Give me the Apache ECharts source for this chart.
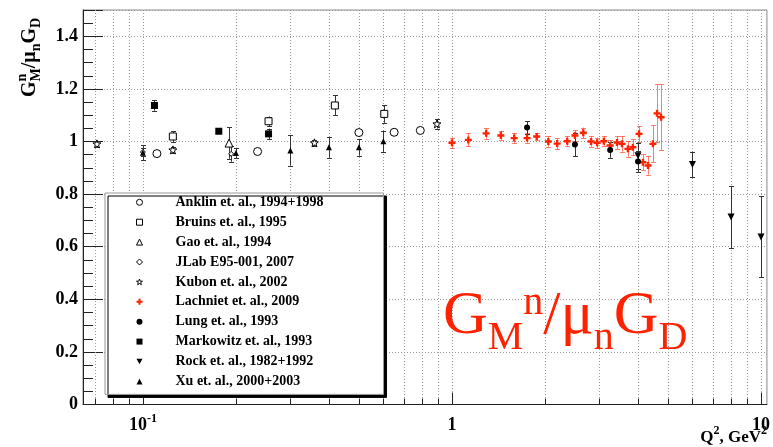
<!DOCTYPE html>
<html><head><meta charset="utf-8">
<script src="https://cdn.jsdelivr.net/npm/echarts@6/dist/echarts.min.js"></script>
<style>html,body{margin:0;padding:0;background:#fff;}#c{width:773px;height:447px;}</style>
</head><body><div id="c"></div>
<script>
// ---------- data ----------
const xMin = 0.064, xMax = 10.45;
const yMin = 0, yMax = 1.5, yStep = 0.2;
const xGridValues = [0.07,0.08,0.09,0.1,0.2,0.3,0.4,0.5,0.6,0.7,0.8,0.9,1,2,3,4,5,6,7,8,9,10];
const xMajorValues = [0.1, 1, 10];

const anklinQ2 = [0.111, 0.235, 0.50, 0.65, 0.79];
const anklinVal = [0.954, 0.962, 1.034, 1.035, 1.042];
const anklinErr = [0, 0, 0, 0, 0];

const bruinsQ2 = [0.125, 0.255, 0.418, 0.604];
const bruinsVal = [1.019, 1.077, 1.137, 1.105];
const bruinsErr = [0.02, 0.018, 0.038, 0.034];

const gaoQ2 = [0.19];
const gaoVal = [0.994];
const gaoErr = [0.06];

const jlabQ2 = [0.1, 0.193];
const jlabVal = [0.960, 0.953];
const jlabErr = [0.015, 0.03];

const kubonQ2 = [0.071, 0.125, 0.359, 0.894];
const kubonVal = [0.991, 0.968, 0.995, 1.067];
const kubonErr = [0.012, 0.012, 0.012, 0.018];

const lachnietQ2 = [1.0, 1.13, 1.29, 1.44, 1.59, 1.75, 1.88, 2.05, 2.19, 2.36, 2.50, 2.66, 2.82, 2.95, 3.10, 3.25, 3.42, 3.55, 3.71, 3.85, 4.03, 4.15, 4.31, 4.47, 4.61, 4.75];
const lachnietVal = [0.995, 1.006, 1.031, 1.023, 1.013, 1.013, 1.019, 1.000, 0.992, 1.001, 1.023, 1.033, 1.000, 0.995, 1.001, 0.985, 0.996, 0.991, 0.972, 0.978, 1.029, 0.921, 0.909, 0.991, 1.107, 1.092];
const lachnietErr = [0.02, 0.025, 0.02, 0.018, 0.02, 0.018, 0.015, 0.02, 0.02, 0.02, 0.02, 0.02, 0.02, 0.02, 0.02, 0.02, 0.025, 0.03, 0.03, 0.03, 0.03, 0.03, 0.035, 0.07, 0.11, 0.125];

const lungQ2 = [1.75, 2.5, 3.25, 4.0];
const lungVal = [1.053, 0.989, 0.968, 0.924];
const lungErr = [0.025, 0.045, 0.03, 0.04];

const markowitzQ2 = [0.109, 0.176, 0.255];
const markowitzVal = [1.137, 1.039, 1.029];
const markowitzErr = [0.02, 0.006, 0.02];

const rockQ2 = [4.0, 6.0, 8.0, 10.0];
const rockVal = [0.946, 0.913, 0.713, 0.637];
const rockErr = [0.05, 0.048, 0.118, 0.154];

const xuQ2 = [0.1, 0.2, 0.3, 0.4, 0.5, 0.6];
const xuVal = [0.957, 0.956, 0.966, 0.978, 0.978, 1.001];
const xuErr = [0.028, 0.02, 0.058, 0.039, 0.032, 0.04];

const legendNames = ['Anklin et. al., 1994+1998','Bruins et. al., 1995','Gao et. al., 1994','JLab E95-001, 2007','Kubon et. al., 2002','Lachniet et. al., 2009','Lung et. al., 1993','Markowitz et. al., 1993','Rock et. al., 1982+1992','Xu et. al., 2000+2003'];

// ---------- styles ----------
const RED = '#ff2200';
const SERIF = 'Liberation Serif';
const STAR = 'path://M0,-10L2.35,-3.24L9.51,-3.09L3.8,1.24L5.88,8.09L0,4L-5.88,8.09L-3.8,1.24L-9.51,-3.09L-2.35,-3.24Z';
const CROSS = 'path://M-1.2,-3.5L1.2,-3.5L1.2,-1.2L3.5,-1.2L3.5,1.2L1.2,1.2L1.2,3.5L-1.2,3.5L-1.2,1.2L-3.5,1.2L-3.5,-1.2L-1.2,-1.2Z';
const DOWN = 'path://M-5,-4L5,-4L0,5Z';

const sets = [
  {name: legendNames[0], q: anklinQ2, v: anklinVal, e: anklinErr, symbol: 'circle', size: 8, color: '#fff', border: '#000'},
  {name: legendNames[1], q: bruinsQ2, v: bruinsVal, e: bruinsErr, symbol: 'rect', size: 7, color: '#fff', border: '#000'},
  {name: legendNames[2], q: gaoQ2, v: gaoVal, e: gaoErr, symbol: 'triangle', size: 8, color: '#fff', border: '#000'},
  {name: legendNames[3], q: jlabQ2, v: jlabVal, e: jlabErr, symbol: 'diamond', size: 5, color: '#fff', border: '#000'},
  {name: legendNames[4], q: kubonQ2, v: kubonVal, e: kubonErr, symbol: STAR, size: 8, color: '#fff', border: '#000'},
  {name: legendNames[5], q: lachnietQ2, v: lachnietVal, e: lachnietErr, symbol: CROSS, size: 7, color: RED, errColor: 'rgba(255,70,50,0.7)'},
  {name: legendNames[6], q: lungQ2, v: lungVal, e: lungErr, symbol: 'circle', size: 6, color: '#000'},
  {name: legendNames[7], q: markowitzQ2, v: markowitzVal, e: markowitzErr, symbol: 'rect', size: 7, color: '#000'},
  {name: legendNames[8], q: rockQ2, v: rockVal, e: rockErr, symbol: DOWN, size: 7, color: '#000'},
  {name: legendNames[9], q: xuQ2, v: xuVal, e: xuErr, symbol: 'triangle', size: 6, color: '#000'}
];

function errSeries(s) {
  const col = s.errColor || '#333';
  return {
    type: 'custom', name: s.name + ' (err)', silent: true, z: 3,
    data: s.q.map((x, i) => [x, s.v[i], s.e[i]]),
    encode: {x: 0, y: 1},
    renderItem: (p, api) => {
      const x = api.value(0), y = api.value(1), d = api.value(2);
      if (!d) return {type: 'group', children: []};
      const a = api.coord([x, y + d]), b = api.coord([x, y - d]);
      const px = Math.round(a[0]) + 0.5;
      const st = {stroke: col, lineWidth: 1};
      return {type: 'group', children: [
        {type: 'line', shape: {x1: px, y1: a[1], x2: px, y2: b[1]}, style: st},
        {type: 'line', shape: {x1: px - 2.5, y1: Math.round(a[1]) + 0.5, x2: px + 2.5, y2: Math.round(a[1]) + 0.5}, style: st},
        {type: 'line', shape: {x1: px - 2.5, y1: Math.round(b[1]) + 0.5, x2: px + 2.5, y2: Math.round(b[1]) + 0.5}, style: st}
      ]};
    }
  };
}
function markSeries(s) {
  return {
    type: 'scatter', name: s.name, z: 4,
    data: s.q.map((x, i) => [x, s.v[i]]),
    symbol: s.symbol, symbolSize: s.size,
    itemStyle: {color: s.color, borderColor: s.border || s.color, borderWidth: s.border ? 1 : 0, opacity: 1},
    emphasis: {disabled: true}
  };
}

// grid lines and log ticks along the Q2 axis
const gridSeries = {
  type: 'custom', silent: true, z: 1,
  data: xGridValues.map(v => [v, 0]),
  encode: {x: 0, y: 1},
  renderItem: (p, api) => {
    const v = api.value(0);
    const b = api.coord([v, yMin]), t = api.coord([v, yMax]);
    const px = Math.round(b[0]) + 0.5;
    const major = xMajorValues.indexOf(v) >= 0;
    return {type: 'group', children: [
      {type: 'line', shape: {x1: px, y1: t[1], x2: px, y2: b[1]}, style: {stroke: '#9a9a9a', lineWidth: 1, lineDash: [1, 2]}},
      {type: 'line', shape: {x1: px, y1: b[1], x2: px, y2: b[1] - (major ? 12 : 6)}, style: {stroke: '#222', lineWidth: 1}}
    ]};
  }
};

// text built from pieces with sub/superscripts; rot = true -> reads bottom to top
const mctx = document.createElement('canvas').getContext('2d');
function pieceText(pieces, x0, y0, weight, color, rot) {
  let x = 0, stackX = 0, stackEnd = 0;
  const items = [];
  pieces.forEach(pc => {
    mctx.font = weight + ' ' + pc.size + 'px "' + SERIF + '"';
    const w = mctx.measureText(pc.t).width;
    let lx;
    if (pc.stack) { lx = stackX; stackEnd = Math.max(stackEnd, lx + w); x = stackEnd; }
    else { lx = x; stackX = x; stackEnd = x + w; x = x + w; }
    const ly = (pc.dy || 0) - 0.32 * pc.size;
    items.push({lx, ly, pc});
  });
  const total = x;
  const sx = (typeof x0 === 'function') ? x0(total) : x0;
  return items.map(it => ({
    type: 'text', silent: true, z: 50,
    x: rot ? sx + it.ly : sx + it.lx,
    y: rot ? y0 - it.lx : y0 + it.ly,
    rotation: rot ? Math.PI / 2 : 0,
    style: {text: it.pc.t, fontFamily: SERIF, fontWeight: weight, fontSize: it.pc.size, fill: color, verticalAlign: 'middle', align: 'left'}
  }));
}

const yTitle = pieceText([
  {t: 'G', size: 20}, {t: 'M', size: 14, dy: 5}, {t: 'n', size: 14, dy: -9, stack: true},
  {t: '/', size: 20}, {t: 'μ', size: 20}, {t: 'n', size: 14, dy: 5},
  {t: 'G', size: 20}, {t: 'D', size: 14, dy: 5}
], 36, 97, 'bold', '#000', true);
const bigTitle = pieceText([
  {t: 'G', size: 62}, {t: 'M', size: 40, dy: 14}, {t: 'n', size: 40, dy: -21},
  {t: '/', size: 62}, {t: 'μ', size: 62}, {t: 'n', size: 40, dy: 14},
  {t: 'G', size: 62}, {t: 'D', size: 40, dy: 14}
], 443, 337, 'normal', RED, false);
const xTitle = pieceText([
  {t: 'Q', size: 17}, {t: '2', size: 12, dy: -8}, {t: ', GeV', size: 17}, {t: '2', size: 12, dy: -8}
], w => 767 - w, 443, 'bold', '#000', false);

const series = [gridSeries];
sets.forEach(s => series.push(errSeries(s)));
sets.forEach(s => series.push(markSeries(s)));

const legendData = sets.map(s => ({
  name: s.name, icon: s.symbol,
  itemStyle: {color: s.color, borderColor: s.border || s.color, borderWidth: s.border ? 1 : 0}
}));

const chart = echarts.init(document.getElementById('c'), null, {renderer: 'canvas'});
chart.setOption({
  animation: false,
  backgroundColor: '#fff',
  grid: {left: 83, right: 6, top: 10, bottom: 42.5, show: true, borderColor: '#888', borderWidth: 1},
  xAxis: {
    type: 'log', logBase: 10, min: xMin, max: xMax,
    axisLine: {lineStyle: {color: '#222'}}, axisTick: {show: false}, splitLine: {show: false}, minorTick: {show: false},
    axisLabel: {
      margin: 8, color: '#000',
      formatter: v => {
        const e = Math.log10(v), r = Math.round(e);
        if (Math.abs(e - r) > 1e-6) return '';
        if (r === 0) return '{b|1}';
        if (r === 1) return '{b|10}';
        return '{b|10}{s|' + r + '}';
      },
      rich: {
        b: {fontFamily: SERIF, fontWeight: 'bold', fontSize: 18, color: '#000', lineHeight: 22, verticalAlign: 'bottom'},
        s: {fontFamily: SERIF, fontWeight: 'bold', fontSize: 12, color: '#000', lineHeight: 12, verticalAlign: 'top'}
      }
    }
  },
  yAxis: {
    type: 'value', min: yMin, max: yMax, interval: yStep,
    axisLine: {show: true, lineStyle: {color: '#222'}},
    axisTick: {show: true, inside: true, length: 20, lineStyle: {color: '#222'}},
    minorTick: {show: true, splitNumber: 4, length: 10, lineStyle: {color: '#222'}},
    splitLine: {show: true, lineStyle: {color: '#9a9a9a', type: [1, 2]}},
    axisLabel: {
      margin: 5, color: '#000', fontFamily: SERIF, fontWeight: 'bold', fontSize: 18,
      formatter: v => (v > yMax - 0.05 ? '' : String(+v.toFixed(1)))
    }
  },
  legend: {
    orient: 'vertical', left: 105, top: 193,
    data: legendData, selectedMode: false,
    itemWidth: 6, itemHeight: 6, itemGap: 5.9,
    padding: [2.3, 60, 6, 31],
    backgroundColor: '#fff', borderColor: '#999', borderWidth: 1,
    shadowColor: '#000', shadowBlur: 0, shadowOffsetX: 3, shadowOffsetY: 3,
    textStyle: {fontFamily: SERIF, fontWeight: 'bold', fontSize: 14, color: '#000', lineHeight: 14, padding: [0, 0, 0, 28]}
  },
  graphic: [].concat(yTitle, bigTitle, xTitle),
  series: series
});
</script>
</body></html>
